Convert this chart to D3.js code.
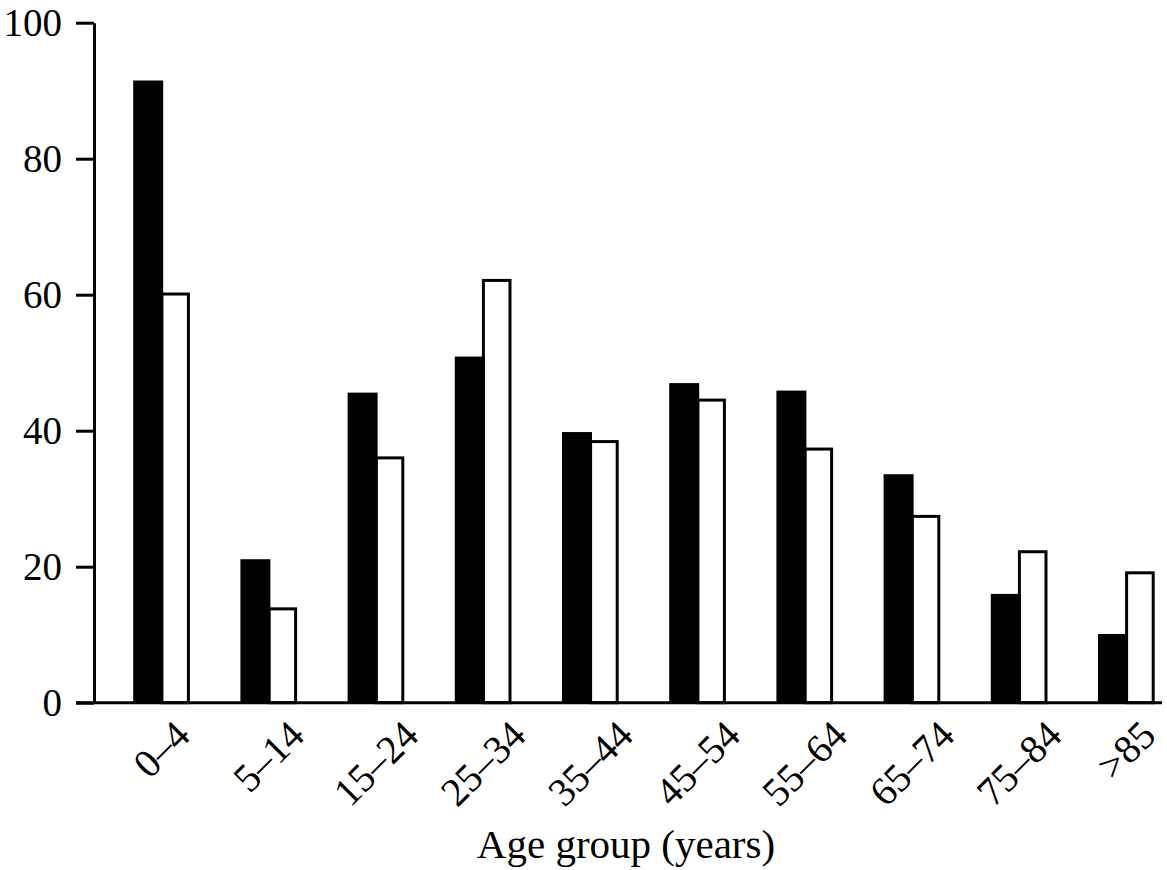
<!DOCTYPE html>
<html>
<head>
<meta charset="utf-8">
<script src="https://cdn.jsdelivr.net/npm/d3@7/dist/d3.min.js"></script>
<style>
  html, body { margin: 0; padding: 0; background: #fff; }
  svg { display: block; }
  text { font-family: "Liberation Serif", "Times New Roman", serif; fill: #000; }
</style>
</head>
<body>
<svg id="chart" width="1167" height="870"></svg>
<script>
const categories = ["0\u20134", "5\u201314", "15\u201324", "25\u201334", "35\u201344", "45\u201354", "55\u201364", "65\u201374", "75\u201384", ">85"];
const blackSeries = [91.5, 21.1, 45.6, 50.9, 39.8, 47.0, 45.9, 33.6, 16.0, 10.1];
const whiteSeries = [60.1, 13.8, 36.0, 62.1, 38.4, 44.5, 37.3, 27.4, 22.2, 19.1];
const yTicks = [0, 20, 40, 60, 80, 100];
const xTitle = "Age group (years)";

const svg = d3.select("#chart");
const axisX = 94, plotRight = 1162;
const y = d3.scaleLinear().domain([0, 100]).range([702.7, 22.7]);
const x = d3.scaleBand().domain(categories).range([108, 1180]).padding(0);
const cx = d => x(d) + x.bandwidth() / 2;

// white (outlined) bars first
svg.append("g").selectAll("rect").data(categories).join("rect")
  .attr("x", d => cx(d) + 0.2)
  .attr("y", (d, i) => y(whiteSeries[i]))
  .attr("width", 26.6)
  .attr("height", (d, i) => y(0) - y(whiteSeries[i]))
  .attr("fill", "#fff").attr("stroke", "#000").attr("stroke-width", 3);

// black bars
svg.append("g").selectAll("rect").data(categories).join("rect")
  .attr("x", d => cx(d) - 28.4)
  .attr("y", (d, i) => y(blackSeries[i]))
  .attr("width", 30)
  .attr("height", (d, i) => y(0) - y(blackSeries[i]))
  .attr("fill", "#000");

// y axis
const gy = svg.append("g").attr("transform", `translate(${axisX},0)`)
  .call(d3.axisLeft(y).tickValues(yTicks).tickSize(18).tickSizeOuter(0).tickPadding(14));
gy.select(".domain").attr("stroke-width", 3);
gy.selectAll(".tick line").attr("stroke-width", 3);
gy.selectAll(".tick text").attr("font-size", 39).attr("font-family", "Liberation Serif").attr("dy", "0.34em");

// x axis: rotated labels, bbox centred under the group, top just below the axis
const gx = svg.append("g").attr("transform", `translate(0,${y(0)})`)
  .call(d3.axisBottom(x).tickSize(0).tickSizeOuter(0));
gx.select(".domain").remove();
const labTop = 16;
gx.selectAll(".tick text")
  .attr("font-size", 40).attr("font-family", "Liberation Serif")
  .attr("text-anchor", "middle")
  .attr("x", 0).attr("y", 0).attr("dy", "0.33em")
  .each(function () {
    const w = this.getComputedTextLength();
    const half = 0.7071 * (w / 2 + 13.5);
    d3.select(this).attr("transform", `translate(0,${labTop + half}) rotate(-45)`);
  });

svg.append("line")
  .attr("x1", axisX - 18).attr("x2", plotRight)
  .attr("y1", y(0)).attr("y2", y(0))
  .attr("stroke", "#000").attr("stroke-width", 3);

svg.append("text")
  .attr("x", 626).attr("y", 858)
  .attr("text-anchor", "middle")
  .attr("font-size", 41)
  .text(xTitle);
</script>
</body>
</html>
